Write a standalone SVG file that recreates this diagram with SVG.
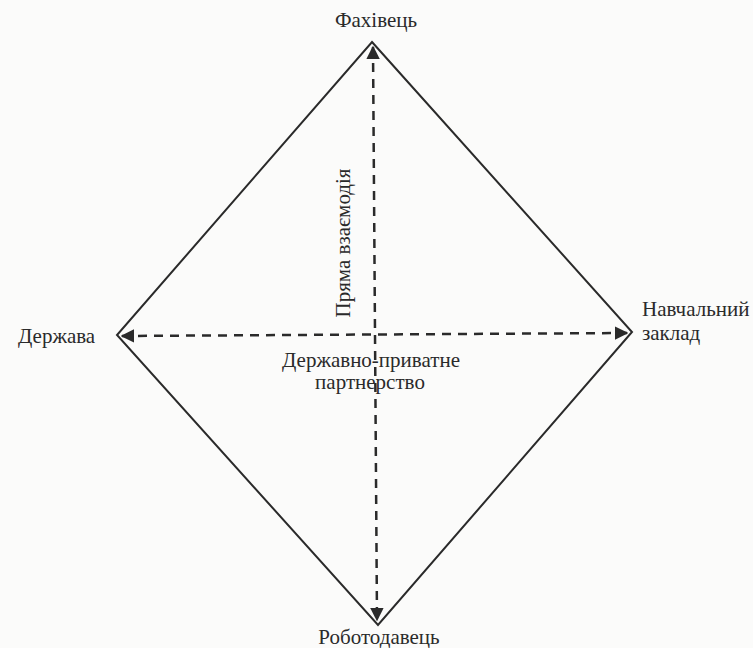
<svg xmlns="http://www.w3.org/2000/svg" width="753" height="648" viewBox="0 0 753 648">
<style>
.lbl{font-family:"Liberation Serif","Times New Roman",serif;font-size:21px;fill:#2a2a2a}
.edge{stroke:#2a2a2a;stroke-width:2;fill:none}
.dash{stroke:#2a2a2a;stroke-width:2.5;fill:none;stroke-dasharray:9 7}
</style>
<defs>
<marker id="ah" viewBox="0 0 10 10" refX="9" refY="5" markerWidth="5.5" markerHeight="5.5" orient="auto-start-reverse" markerUnits="strokeWidth">
<path d="M0,0 L10,5 L0,10 z" fill="#2a2a2a"/>
</marker>
</defs>
<rect width="753" height="648" fill="#fbfbfa"/>
<g id="connectors">
<path class="edge" d="M372,42 L632,332 L378,625 L117,335 Z"/>
<path class="dash" d="M373,47 L377,620" marker-start="url(#ah)" marker-end="url(#ah)"/>
<path class="dash" d="M122,336 L627,333" marker-start="url(#ah)" marker-end="url(#ah)"/>
</g>
<g id="n-top"><text class="lbl" x="376" y="27" text-anchor="middle">Фахівець</text></g>
<g id="n-left"><text class="lbl" x="18" y="343">Держава</text></g>
<g id="n-right"><text class="lbl" x="642" y="316">Навчальний</text><text class="lbl" x="642" y="340">заклад</text></g>
<g id="n-bottom"><text class="lbl" x="379" y="644" text-anchor="middle">Роботодавець</text></g>
<g id="l-vert"><text class="lbl" transform="translate(350,243) rotate(-90)" text-anchor="middle">Пряма взаємодія</text></g>
<g id="l-horiz"><text class="lbl" x="371" y="367" text-anchor="middle">Державно-приватне</text><text class="lbl" x="370" y="389" text-anchor="middle">партнерство</text></g>
</svg>
